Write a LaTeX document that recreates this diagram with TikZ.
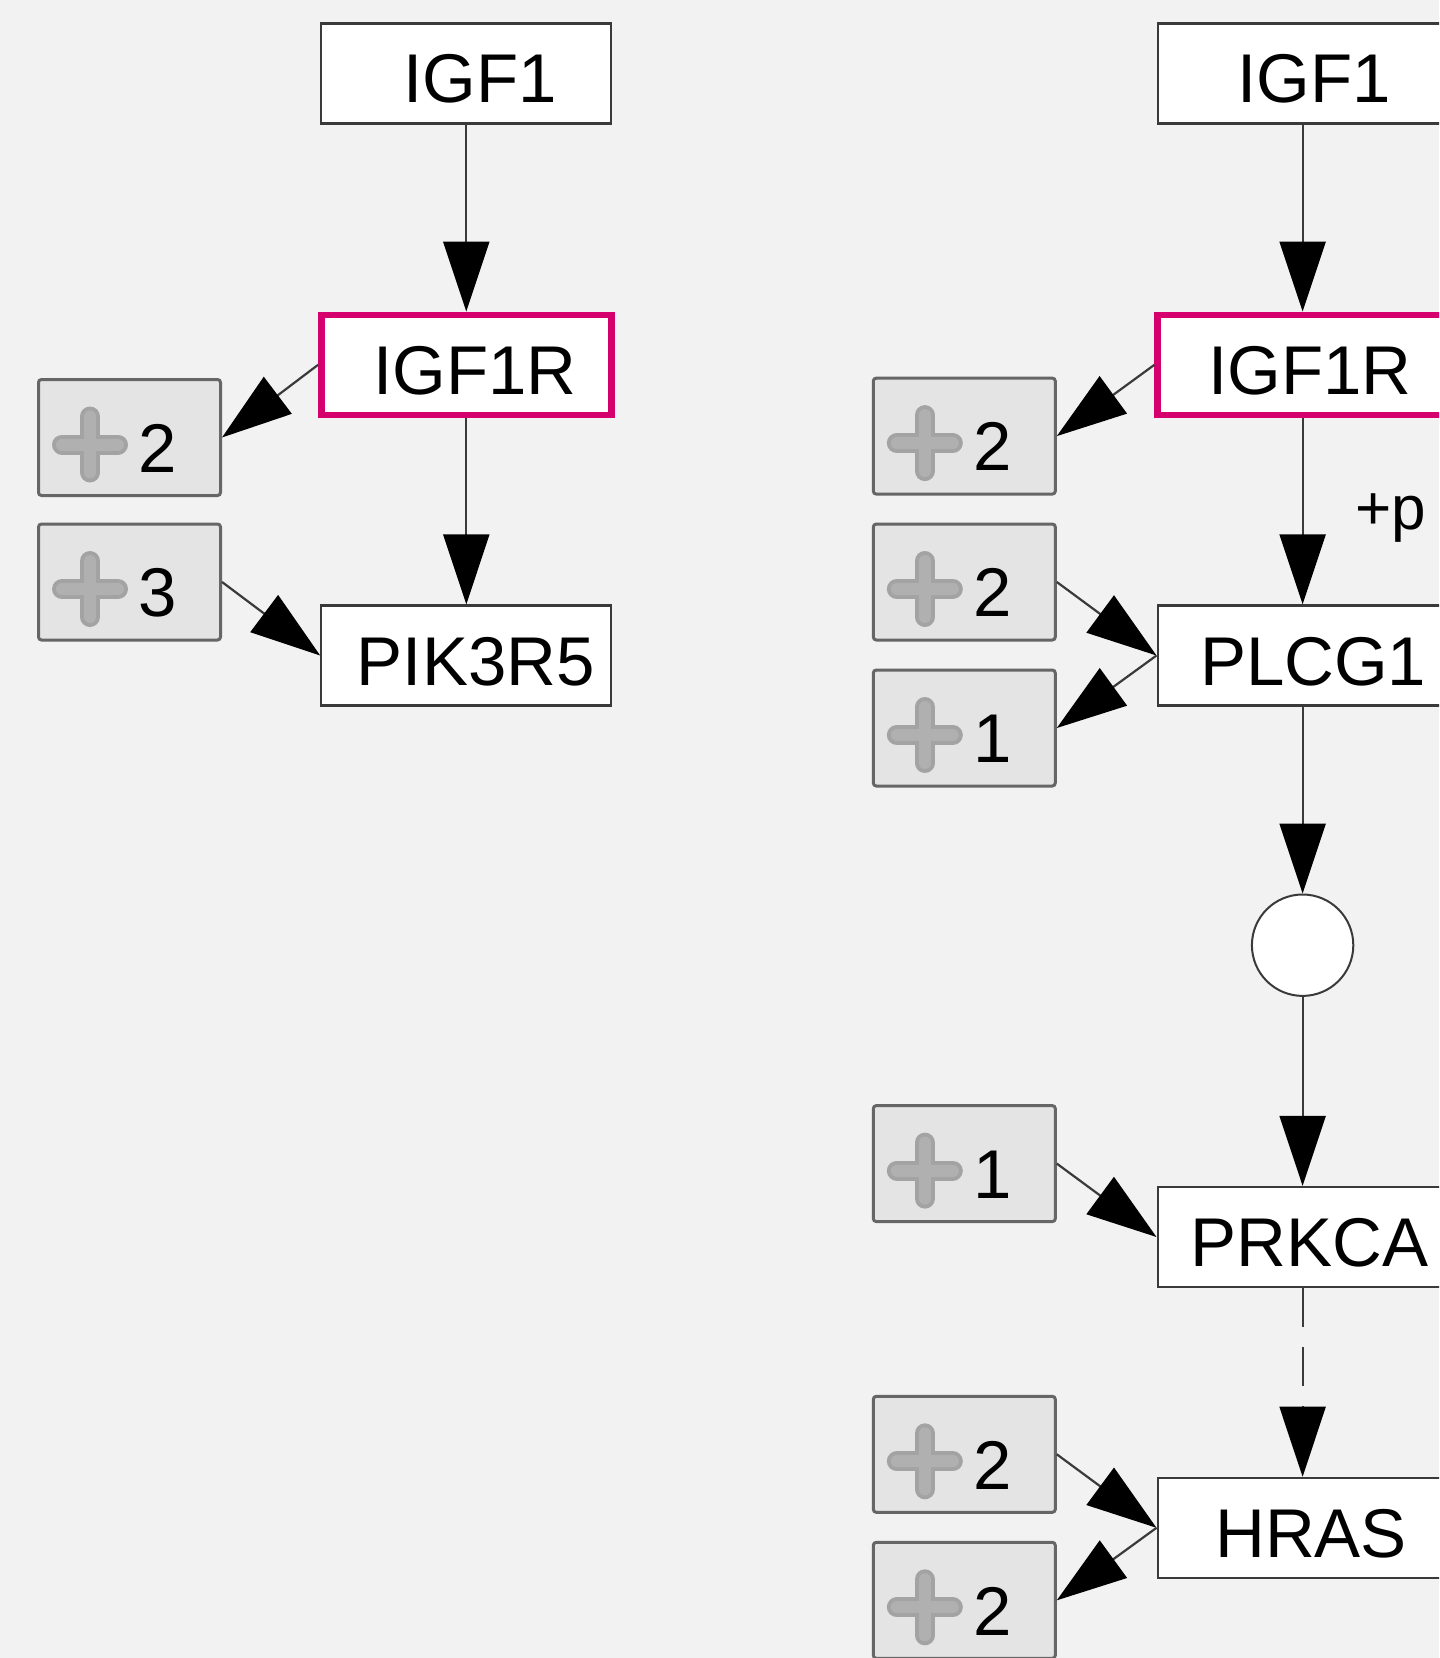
\documentclass[tikz,border=0pt]{standalone}
\usepackage{fontspec}
\setmainfont{Liberation Sans}
\usetikzlibrary{arrows.meta}
\definecolor{bgc}{HTML}{F2F2F2}
\definecolor{pinkc}{HTML}{D5006D}
\definecolor{boxfill}{HTML}{E4E4E4}
\definecolor{boxedge}{HTML}{666666}
\definecolor{crossdark}{HTML}{A3A3A3}
\definecolor{crosslight}{HTML}{B0B0B0}
\definecolor{edgec}{HTML}{3A3A3A}
\begin{document}
\begin{tikzpicture}[x=0.5pt,y=-0.5pt,
  gene/.style={draw=edgec, fill=white, line width=1.1pt, minimum width=145pt, minimum height=50pt,
    inner sep=0pt, font=\fontsize{34.5}{40}\selectfont, text height=29.5pt, text depth=0pt},
  recep/.style={gene, draw=pinkc, line width=3.2pt},
  plusbox/.style={draw=boxedge, fill=boxfill, line width=1.5pt, rounded corners=1.5pt,
    minimum width=91pt, minimum height=58pt, inner sep=0pt,
    font=\fontsize{34.5}{40}\selectfont, text height=34.7pt, text depth=0pt,
    path picture={
      \coordinate (pc) at ([xshift=25.75pt,yshift=-3.5pt]path picture bounding box.west);
      \draw[crossdark, line width=10pt, line cap=round] ([xshift=-14pt]pc) -- ([xshift=14pt]pc)
                                        ([yshift=-14pt]pc) -- ([yshift=14pt]pc);
      \draw[crosslight, line width=6pt, line cap=round] ([xshift=-14pt]pc) -- ([xshift=14pt]pc)
                                        ([yshift=-14pt]pc) -- ([yshift=14pt]pc);
    }},
  flow/.style={draw=edgec, line width=1.1pt, -{Triangle[length=35pt,width=23pt,color=black]}},
  plab/.style={font=\fontsize{31}{36}\selectfont, inner sep=0pt, anchor=base west},
]
\useasboundingbox (0,0) rectangle (1439,1658);
\fill[bgc] (0,0) rectangle (1439,1658);
\begin{scope}
\clip (0,0) rectangle (1439,1658);
% left column
\node[gene]  (igfL)  at (466.3,73.5)  {\hspace*{13.7pt}IGF1};
\node[recep] (igfrL) at (466.3,364.8) {\hspace*{8.5pt}IGF1R};
\node[gene]  (pikL)  at (466.3,655.5) {\hspace*{9.5pt}PIK3R5};
\node[plusbox] (pL2) at (129.5,437.5) {\hspace*{28pt}2};
\node[plusbox] (pL3) at (129.5,582)   {\hspace*{28pt}3};
% right column
\node[gene]  (igfR)  at (1302.6,73.5)  {\hspace*{11.6pt}IGF1};
\node[recep] (igfrR) at (1302.6,364.8) {\hspace*{7.4pt}IGF1R};
\node[gene]  (plc)   at (1302.6,655.5) {\hspace*{10.6pt}PLCG1};
\node[circle, draw=edgec, fill=white, line width=1pt, minimum size=50.7pt, inner sep=0pt] (cir) at (1302.6,945.2) {};
\node[gene]  (prk)   at (1302.6,1237)  {\hspace*{6.9pt}PRKCA};
\node[gene]  (hras)  at (1302.6,1527.8) {\hspace*{8.5pt}HRAS};
\node[plusbox] (pR1) at (964.3,436.1)  {\hspace*{28pt}2};
\node[plusbox] (pR2) at (964.3,582)    {\hspace*{28pt}2};
\node[plusbox] (pR3) at (964.3,728)    {\hspace*{28pt}1};
\node[plusbox] (pR4) at (964.3,1163.6) {\hspace*{28pt}1};
\node[plusbox] (pR5) at (964.3,1454.3) {\hspace*{28pt}2};
\node[plusbox] (pR6) at (964.3,1600.3) {\hspace*{28pt}2};
\node[plab] (plab) at (1355,529) {+p};
% connectors left
\draw[flow] (igfL) -- (igfrL);
\draw[flow] (igfrL) -- (pikL);
\draw[flow] (igfrL.west) -- (pL2.east);
\draw[flow] (pL3.east) -- (pikL.west);
% connectors right
\draw[flow] (igfR) -- (igfrR);
\draw[flow] (igfrR) -- (plc);
\draw[flow] (igfrR.west) -- (pR1.east);
\draw[flow] (pR2.east) -- (plc.west);
\draw[flow] (plc.west) -- (pR3.east);
\draw[flow] (plc) -- (cir);
\draw[flow] (cir) -- (prk);
\draw[flow] (pR4.east) -- (prk.west);
\draw[flow, dash pattern=on 19.5pt off 10pt] (prk) -- (hras);
\draw[flow] (pR5.east) -- (hras.west);
\draw[flow] (hras.west) -- (pR6.east);
\end{scope}
\end{tikzpicture}
\end{document}
